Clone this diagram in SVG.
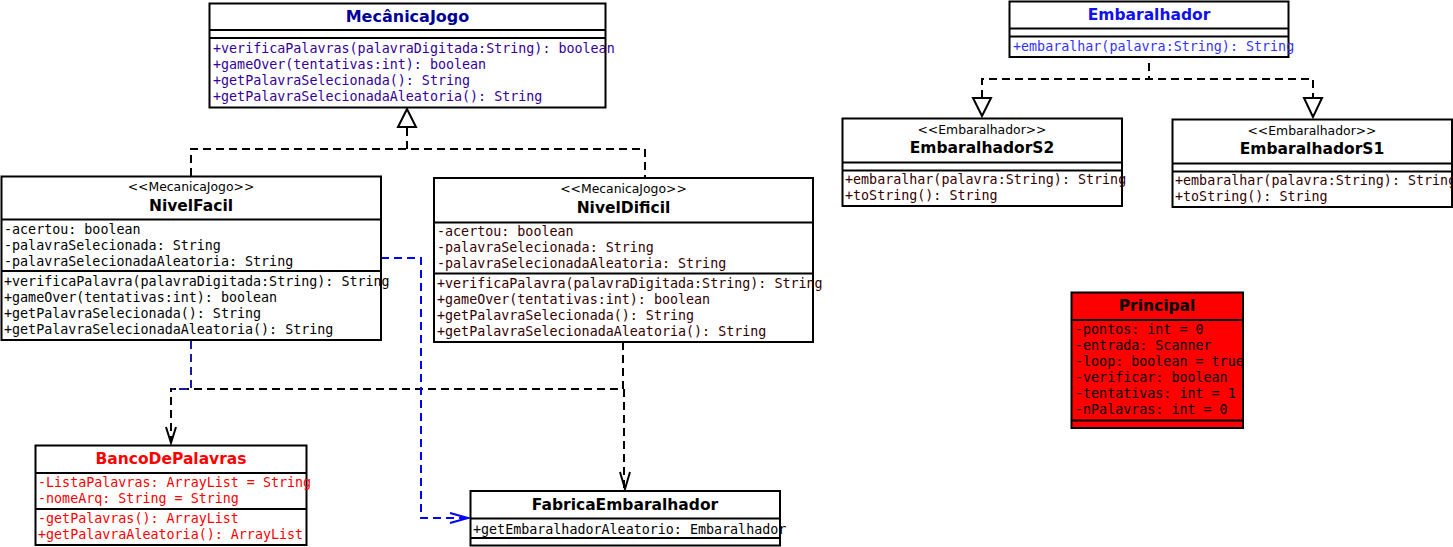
<svg xmlns="http://www.w3.org/2000/svg" width="1453" height="547" viewBox="0 0 1453 547">
<style>
.box{fill:#ffffff;stroke:#000000;stroke-width:2}
.sep{stroke:#000000;stroke-width:2}
.title{font-family:"DejaVu Sans",sans-serif;font-weight:bold;font-size:15.5px;text-anchor:middle}
.st{font-family:"DejaVu Sans",sans-serif;font-size:12.4px;text-anchor:middle;fill:#000000}
.m{font-family:"DejaVu Sans Mono",monospace;font-size:13.35px}
.dash{fill:none;stroke:#000000;stroke-width:2;stroke-dasharray:8 5}
.tri{fill:#ffffff;stroke:#000000;stroke-width:2}
.open{fill:none;stroke-width:2}
</style>
<rect width="1453" height="547" fill="#ffffff"/>
<g id="connectors">
  <path class="dash" d="M191,176 V149 H645 V178"/>
  <path class="dash" d="M407,149 V127"/>
  <polygon class="tri" points="407,109 398,127 416,127"/>
  <path class="dash" d="M1149,63 V79"/>
  <path class="dash" d="M982,98 V79 H1313 V98"/>
  <polygon class="tri" points="982,116 973,98 991,98"/>
  <polygon class="tri" points="1313,117 1304,98 1322,98"/>
  <path class="dash" d="M623,342 V389 H171 V442"/>
  <polyline class="open" stroke="#000000" points="166,427 171,443 176,427"/>
  <path class="dash" d="M624,389 V488"/>
  <polyline class="open" stroke="#000000" points="620,472 625,489 630,472"/>
  <path class="dash" style="stroke:#1a1aa6" d="M191,341 V389 H172"/>
  <path class="dash" style="stroke:#0000ff" d="M381,258 H421 V518 H467"/>
  <polyline class="open" stroke="#0000ff" points="450,513 468,518 450,523"/>
</g>
<g id="MecanicaJogo">
  <rect class="box" x="209.5" y="3.5" width="396" height="104"/>
  <line class="sep" x1="209.5" y1="30" x2="605.5" y2="30"/>
  <line class="sep" x1="209.5" y1="38" x2="605.5" y2="38"/>
  <text class="title" x="407.5" y="22" style="font-size:16px" fill="#000099">MecânicaJogo</text>
  <g class="m" fill="#330099">
    <text x="213" y="53">+verificaPalavras(palavraDigitada:String): boolean</text>
    <text x="213" y="69">+gameOver(tentativas:int): boolean</text>
    <text x="213" y="85">+getPalavraSelecionada(): String</text>
    <text x="213" y="101">+getPalavraSelecionadaAleatoria(): String</text>
  </g>
</g>
<g id="NivelFacil">
  <rect class="box" x="1.5" y="176.5" width="379.5" height="163.5"/>
  <line class="sep" x1="1.5" y1="219.5" x2="381" y2="219.5"/>
  <line class="sep" x1="1.5" y1="271" x2="381" y2="271"/>
  <text class="st" x="191" y="191">&lt;&lt;MecanicaJogo&gt;&gt;</text>
  <text class="title" x="191" y="210.5" fill="#000000">NivelFacil</text>
  <g class="m" fill="#000000">
    <text x="4" y="234">-acertou: boolean</text>
    <text x="4" y="250">-palavraSelecionada: String</text>
    <text x="4" y="266">-palavraSelecionadaAleatoria: String</text>
    <text x="4" y="286">+verificaPalavra(palavraDigitada:String): String</text>
    <text x="4" y="302">+gameOver(tentativas:int): boolean</text>
    <text x="4" y="318">+getPalavraSelecionada(): String</text>
    <text x="4" y="334">+getPalavraSelecionadaAleatoria(): String</text>
  </g>
</g>
<g id="NivelDificil">
  <rect class="box" x="434" y="178" width="379" height="164"/>
  <line class="sep" x1="434" y1="222.5" x2="813" y2="222.5"/>
  <line class="sep" x1="434" y1="273.5" x2="813" y2="273.5"/>
  <text class="st" x="623.5" y="193">&lt;&lt;MecanicaJogo&gt;&gt;</text>
  <text class="title" x="623.5" y="212.5" fill="#000000">NivelDificil</text>
  <g class="m" fill="#330000">
    <text x="437" y="236">-acertou: boolean</text>
    <text x="437" y="252">-palavraSelecionada: String</text>
    <text x="437" y="268">-palavraSelecionadaAleatoria: String</text>
    <text x="437" y="288">+verificaPalavra(palavraDigitada:String): String</text>
    <text x="437" y="304">+gameOver(tentativas:int): boolean</text>
    <text x="437" y="320">+getPalavraSelecionada(): String</text>
    <text x="437" y="336">+getPalavraSelecionadaAleatoria(): String</text>
  </g>
</g>
<g id="Embaralhador">
  <rect class="box" x="1009.5" y="1.5" width="279" height="55.5"/>
  <line class="sep" x1="1009.5" y1="28.5" x2="1288.5" y2="28.5"/>
  <line class="sep" x1="1009.5" y1="36.5" x2="1288.5" y2="36.5"/>
  <text class="title" x="1149" y="20" fill="#1010f0">Embaralhador</text>
  <text class="m" x="1013" y="50.5" fill="#3333ff">+embaralhar(palavra:String): String</text>
</g>
<g id="EmbaralhadorS2">
  <rect class="box" x="842.5" y="118.5" width="279.5" height="87.5"/>
  <line class="sep" x1="842.5" y1="162.5" x2="1122" y2="162.5"/>
  <line class="sep" x1="842.5" y1="170.5" x2="1122" y2="170.5"/>
  <text class="st" x="982" y="134">&lt;&lt;Embaralhador&gt;&gt;</text>
  <text class="title" x="982" y="153" fill="#000000">EmbaralhadorS2</text>
  <g class="m" fill="#330000">
    <text x="845" y="184">+embaralhar(palavra:String): String</text>
    <text x="845" y="200">+toString(): String</text>
  </g>
</g>
<g id="EmbaralhadorS1">
  <rect class="box" x="1172.5" y="119.5" width="279.5" height="87.5"/>
  <line class="sep" x1="1172.5" y1="163.5" x2="1452" y2="163.5"/>
  <line class="sep" x1="1172.5" y1="171.5" x2="1452" y2="171.5"/>
  <text class="st" x="1312" y="135">&lt;&lt;Embaralhador&gt;&gt;</text>
  <text class="title" x="1312" y="154" fill="#000000">EmbaralhadorS1</text>
  <g class="m" fill="#330000">
    <text x="1175" y="185">+embaralhar(palavra:String): String</text>
    <text x="1175" y="201">+toString(): String</text>
  </g>
</g>
<g id="Principal">
  <rect class="box" x="1071.5" y="292.5" width="171.5" height="135.5" style="fill:#ff0000"/>
  <line class="sep" x1="1071.5" y1="320" x2="1243" y2="320"/>
  <line class="sep" x1="1071.5" y1="420.5" x2="1243" y2="420.5"/>
  <text class="title" x="1157" y="310.5" fill="#000000">Principal</text>
  <g class="m" fill="#000000">
    <text x="1075" y="334">-pontos: int = 0</text>
    <text x="1075" y="350">-entrada: Scanner</text>
    <text x="1075" y="366">-loop: boolean = true</text>
    <text x="1075" y="382">-verificar: boolean</text>
    <text x="1075" y="398">-tentativas: int = 1</text>
    <text x="1075" y="414">-nPalavras: int = 0</text>
  </g>
</g>
<g id="BancoDePalavras">
  <rect class="box" x="35.5" y="445.5" width="271" height="99.5"/>
  <line class="sep" x1="35.5" y1="473" x2="306.5" y2="473"/>
  <line class="sep" x1="35.5" y1="509" x2="306.5" y2="509"/>
  <text class="title" x="171" y="464" fill="#ff0000">BancoDePalavras</text>
  <g class="m" fill="#ff0000">
    <text x="38" y="487">-ListaPalavras: ArrayList = String</text>
    <text x="38" y="503">-nomeArq: String = String</text>
    <text x="38" y="523">-getPalavras(): ArrayList</text>
    <text x="38" y="539">+getPalavraAleatoria(): ArrayList</text>
  </g>
</g>
<g id="FabricaEmbaralhador">
  <rect class="box" x="470.5" y="491" width="309.5" height="54.5"/>
  <line class="sep" x1="470.5" y1="518.5" x2="780" y2="518.5"/>
  <line class="sep" x1="470.5" y1="538" x2="780" y2="538"/>
  <text class="title" x="625" y="510" fill="#000000">FabricaEmbaralhador</text>
  <text class="m" x="473" y="533.5" fill="#000000">+getEmbaralhadorAleatorio: Embaralhador</text>
</g>
</svg>
